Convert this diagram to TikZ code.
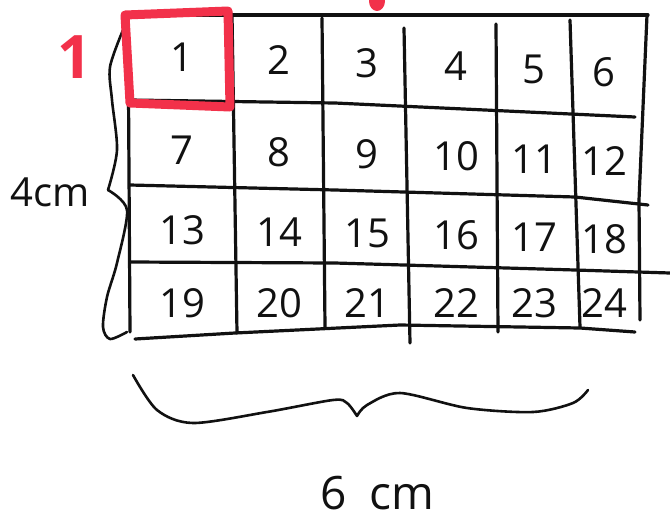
\documentclass[tikz,border=0pt]{standalone}
\usepackage{fontspec}
\setmainfont{Open Sans}
\usepackage{tikz}
\usetikzlibrary{calc}
\definecolor{ink}{HTML}{111111}
\definecolor{marker}{HTML}{F2314A}
\tikzset{pen/.style={ink,line width=3.2pt,line cap=round,line join=round},
  hilite/.style={marker,line width=9pt,line cap=round,line join=round},
  digit/.style={ink,font=\fontsize{40}{44}\selectfont},
  dimlabel/.style={ink,font=\fontsize{40}{44}\selectfont}}
\newcommand{\gridlines}{%
  % rows
  \draw[pen] (128,15) -- (648,15);
  \draw[pen] (130,100) -- (335,103) -- (635,117);
  \draw[pen] (130,185) -- (335,190) -- (575,197) -- (648,205);
  \draw[pen] (130,262) -- (335,263) -- (575,270) -- (670,273);
  \draw[pen] (135,339) -- (235,333) -- (400,325) -- (580,328) -- (635,332);
  % columns
  \draw[pen] (128,15) -- (130,332);
  \draw[pen] (232,14) -- (237,333);
  \draw[pen] (322,18) -- (325,327);
  \draw[pen] (404,28) -- (410,343);
  \draw[pen] (496,24) -- (498,332);
  \draw[pen] (570,20) -- (580,327);
  \draw[pen] (647,15) -- (639,200) -- (640,320);
}
\newcommand{\sidebrace}{%
  \draw[pen,line width=2.6pt] plot[smooth] coordinates
    {(123,30) (110,67) (112,100) (117,150) (108,190)};
  \draw[pen,line width=2.6pt] plot[smooth] coordinates
    {(108,190) (127,210) (117,263) (107,297) (103,327) (110,339) (127,332)};
}
\newcommand{\basebrace}{%
  \draw[pen,line width=2.6pt] plot[smooth] coordinates
    {(133,375) (157,410) (193,423) (267,412) (333,400) (347,403) (357,416)};
  \draw[pen,line width=2.6pt] plot[smooth] coordinates
    {(357,416) (367,405) (400,393) (467,408) (533,412) (573,403) (588,390)};
}

\begin{document}
\begin{tikzpicture}[x=1pt,y=-1pt]
\useasboundingbox (0,0) rectangle (670,523);
\gridlines \sidebrace \basebrace
% cell numbers
\foreach \r/\y/\s in {0/57/3,1/150/2.2,2/230/1.8,3/303/0}
  \foreach \c/\x in {0/182,1/279,2/367,3/456,4/534,5/604} {
    \pgfmathtruncatemacro\k{6*\r+\c+1}
    \node[digit] (n\k) at (\x,{\y+\s*\c}) {\k};
  }
% first square picked out
\draw[hilite] (125,15) -- (228,11) -- (230,107) -- (130,103) -- cycle;
\fill[marker] (377,1) ellipse (8 and 10);
\node[marker,font=\fontsize{60}{64}\selectfont\bfseries] (unit) at (75,57) {1};
\node[dimlabel] (height) at (50,192) {4cm};
\node[dimlabel,font=\fontsize{46}{50}\selectfont,inner sep=0pt] (width) at (377,493) {6\hspace{0.5em}cm};
\end{tikzpicture}
\end{document}
